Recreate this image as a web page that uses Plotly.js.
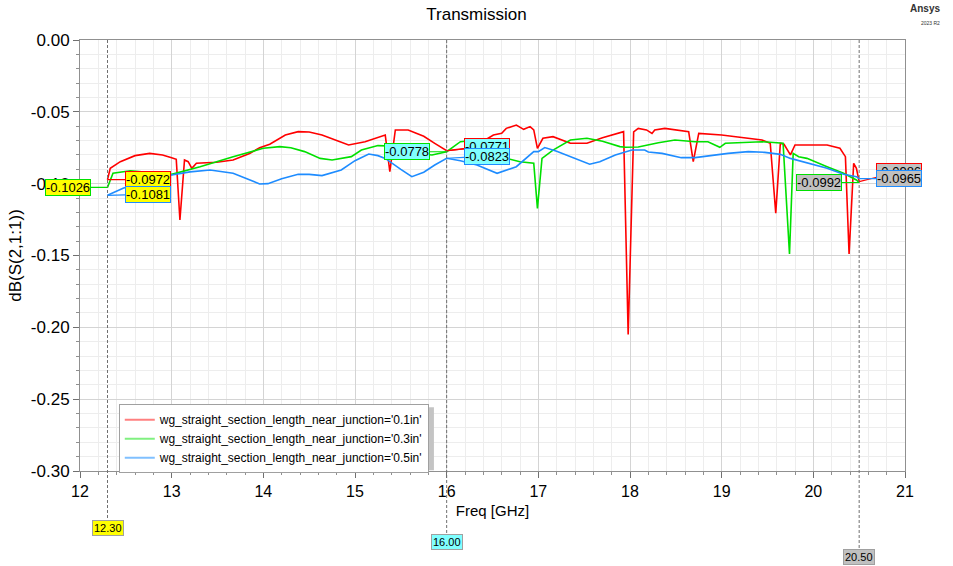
<!DOCTYPE html>
<html>
<head>
<meta charset="utf-8">
<script src="https://cdn.plot.ly/plotly-3.0.1.min.js"></script>
<style>html,body{margin:0;padding:0;background:#fff;}#chart{width:953px;height:566px;}</style>
</head>
<body>
<div id="chart"></div>
<script>
// ---- data ----
const seriesNames = [
  "wg_straight_section_length_near_junction='0.1in'",
  "wg_straight_section_length_near_junction='0.3in'",
  "wg_straight_section_length_near_junction='0.5in'"
];
const redFreq = [12.3,12.33,12.44,12.6,12.76,12.9,13.0,13.05,13.09,13.14,13.18,13.22,13.27,13.49,13.67,13.85,13.96,14.07,14.24,14.38,14.5,14.64,14.8,14.93,15.11,15.25,15.33,15.38,15.44,15.58,15.75,15.87,16.0,16.2,16.33,16.51,16.6,16.65,16.76,16.84,16.91,16.95,16.99,17.05,17.16,17.35,17.53,17.7,17.93,17.98,18.04,18.09,18.18,18.24,18.27,18.38,18.64,18.69,18.75,19.0,19.44,19.53,19.59,19.64,19.68,19.75,19.8,20.15,20.29,20.35,20.39,20.44,20.47,20.5];
const redDb = [-0.0972,-0.0893,-0.0847,-0.0805,-0.0789,-0.0800,-0.0819,-0.0830,-0.1253,-0.0835,-0.0847,-0.0893,-0.0858,-0.0851,-0.0835,-0.0790,-0.0750,-0.0726,-0.0661,-0.0638,-0.0640,-0.0661,-0.0700,-0.0731,-0.0708,-0.0675,-0.0661,-0.0917,-0.0626,-0.0626,-0.0670,-0.0719,-0.0771,-0.0755,-0.0731,-0.0661,-0.0650,-0.0615,-0.0592,-0.0622,-0.0603,-0.0626,-0.0754,-0.0684,-0.0673,-0.0719,-0.0719,-0.0680,-0.0638,-0.2050,-0.0640,-0.0615,-0.0626,-0.0650,-0.0626,-0.0615,-0.0638,-0.0847,-0.0650,-0.0661,-0.0696,-0.0719,-0.1206,-0.0719,-0.0726,-0.0800,-0.0731,-0.0731,-0.0754,-0.0812,-0.1490,-0.0858,-0.0893,-0.0986];
const greenFreq = [12.3,12.36,12.55,12.65,12.8,13.0,13.31,13.67,14.0,14.18,14.3,14.45,14.62,14.75,14.96,15.07,15.25,15.45,15.65,15.84,16.0,16.15,16.33,16.44,16.65,16.8,16.95,16.99,17.04,17.16,17.35,17.53,17.7,17.89,17.95,18.09,18.31,18.49,18.71,18.85,18.98,19.04,19.44,19.53,19.67,19.74,19.78,19.84,19.93,20.15,20.33,20.47,20.5];
const greenDb = [-0.1026,-0.0928,-0.0910,-0.0917,-0.0925,-0.0935,-0.0882,-0.0812,-0.0754,-0.0742,-0.0750,-0.0777,-0.0824,-0.0835,-0.0812,-0.0766,-0.0735,-0.0740,-0.0790,-0.0800,-0.0778,-0.0708,-0.0696,-0.0715,-0.0824,-0.0847,-0.0858,-0.1172,-0.0824,-0.0766,-0.0696,-0.0684,-0.0705,-0.0742,-0.0747,-0.0745,-0.0715,-0.0696,-0.0708,-0.0708,-0.0747,-0.0719,-0.0708,-0.0712,-0.0719,-0.1490,-0.0789,-0.0812,-0.0824,-0.0882,-0.0928,-0.0974,-0.0992];
const blueFreq = [12.3,12.47,12.65,13.0,13.2,13.42,13.67,13.85,13.96,14.05,14.2,14.38,14.5,14.64,14.85,15.0,15.15,15.25,15.33,15.5,15.62,15.75,15.87,16.0,16.15,16.33,16.55,16.76,16.95,17.0,17.07,17.2,17.35,17.56,17.67,17.84,18.02,18.16,18.2,18.35,18.56,18.71,19.07,19.29,19.47,19.64,19.75,19.96,20.15,20.33,20.47,20.5];
const blueDb = [-0.1081,-0.1032,-0.0993,-0.0940,-0.0918,-0.0905,-0.0928,-0.0975,-0.1002,-0.1000,-0.0965,-0.0935,-0.0935,-0.0944,-0.0905,-0.0840,-0.0794,-0.0805,-0.0824,-0.0900,-0.0951,-0.0920,-0.0870,-0.0823,-0.0840,-0.0870,-0.0928,-0.0882,-0.0777,-0.0777,-0.0749,-0.0775,-0.0812,-0.0865,-0.0847,-0.0800,-0.0766,-0.0766,-0.0780,-0.0789,-0.0819,-0.0819,-0.0789,-0.0777,-0.0782,-0.0796,-0.0824,-0.0858,-0.0893,-0.0935,-0.0951,-0.0965];

const markerFreqs = [12.3, 16.0, 20.5];
const markerLabels = ["12.30", "16.00", "20.50"];
const markerRed = [-0.0972, -0.0771, -0.0986];
const markerGreen = [-0.1026, -0.0778, -0.0992];
const markerBlue = [-0.1081, -0.0823, -0.0965];

const yTickVals = [0, -0.05, -0.10, -0.15, -0.20, -0.25, -0.30];
const yTickText = ["0.00", "-0.05", "-0.10", "-0.15", "-0.20", "-0.25", "-0.30"];
const xTickVals = [12, 13, 14, 15, 16, 17, 18, 19, 20, 21];
const xTickText = ["12", "13", "14", "15", "16", "17", "18", "19", "20", "21"];

// ---- styles ----
const lineColors = ["#ff0000", "#00e000", "#1e8cff"];
const legendColors = ["#ff8080", "#80f080", "#80c0ff"];
const markerBg = ["#ffff00", "#80ffff", "#c0c0c0"];
const FONT = "Liberation Sans, Arial, sans-serif";

const xs = [redFreq, greenFreq, blueFreq];
const ys = [redDb, greenDb, blueDb];
const traces = [];
for (let i = 0; i < 3; i++) {
  traces.push({x: xs[i], y: ys[i], type: "scatter", mode: "lines",
    line: {color: lineColors[i], width: 1.6}, showlegend: false, hoverinfo: "skip"});
}
for (let i = 0; i < 3; i++) {
  traces.push({x: [null], y: [null], type: "scatter", mode: "lines", name: seriesNames[i],
    line: {color: legendColors[i], width: 2}, showlegend: true});
}

const annotations = [];
const shapes = [];
// legend drop shadow
shapes.push({type: "rect", xref: "paper", yref: "paper", x0: 0.053, x1: 0.429, y0: 0.002, y1: 0.148,
  fillcolor: "#c4c4c4", line: {width: 0}, layer: "above"});
const labelY = [-0.1323, -0.1647, -0.1995];
const lineEnd = [-0.113, -0.146, -0.181];
const redAy = [0, -4, -10];
const blueAy = [-1, -2, 0];
for (let k = 0; k < markerFreqs.length; k++) {
  shapes.push({type: "line", xref: "x", yref: "paper", x0: markerFreqs[k], x1: markerFreqs[k],
    y0: 1, y1: lineEnd[k], line: {color: "#707070", width: 1, dash: "3px,2px"}, layer: "above"});
  annotations.push({xref: "x", yref: "paper", x: markerFreqs[k], y: labelY[k], text: markerLabels[k],
    showarrow: false, bgcolor: markerBg[k], bordercolor: "#a0a0a0", borderwidth: 1, borderpad: 1,
    font: {family: FONT, size: 11, color: "#000"}, yanchor: "middle"});
  const vals = [markerGreen[k], markerRed[k], markerBlue[k]];
  const cols = [lineColors[1], lineColors[0], lineColors[2]];
  const axs = [-40, 40, 40];
  const ays = [0, redAy[k], blueAy[k]];
  for (let j = 0; j < 3; j++) {
    annotations.push({xref: "x", yref: "y", x: markerFreqs[k], y: vals[j], text: vals[j].toFixed(4),
      showarrow: true, arrowhead: 0, arrowwidth: 1.2, arrowcolor: cols[j], ax: axs[j], ay: ays[j],
      bgcolor: markerBg[k], bordercolor: cols[j], borderwidth: 1, borderpad: 0,
      font: {family: FONT, size: 13, color: "#000"}});
  }
}
annotations.push({xref: "paper", yref: "paper", x: 1.045, y: 1.055, xanchor: "right", yanchor: "bottom",
  text: "<b>Ansys</b>", showarrow: false, font: {family: FONT, size: 10, color: "#333"}});
annotations.push({xref: "paper", yref: "paper", x: 1.045, y: 1.05, xanchor: "right", yanchor: "top",
  text: "2023 R2", showarrow: false, font: {family: FONT, size: 5, color: "#333"}});

const layout = {
  width: 953, height: 566,
  margin: {l: 80, r: 48, t: 40, b: 95},
  paper_bgcolor: "#ffffff", plot_bgcolor: "#ffffff",
  font: {family: FONT, color: "#000"},
  title: {text: "Transmission", x: 0.5, xref: "container", y: 0.975, yref: "container", yanchor: "middle",
    font: {family: FONT, size: 17, color: "#000"}},
  xaxis: {range: [12, 21], tickmode: "array", tickvals: xTickVals, ticktext: xTickText,
    showgrid: true, gridcolor: "#d4d4d4", gridwidth: 1,
    showline: true, linecolor: "#909090", mirror: true, zeroline: false,
    ticks: "outside", ticklen: 6, tickcolor: "#707070",
    tickfont: {family: FONT, size: 16, color: "#000"},
    minor: {dtick: 0.2, tick0: 12, showgrid: true, gridcolor: "#ededed", ticks: "outside", ticklen: 3, tickcolor: "#909090"},
    title: {text: "Freq [GHz]", font: {family: FONT, size: 15, color: "#000"}, standoff: 6}},
  yaxis: {range: [-0.3, 0], tickmode: "array", tickvals: yTickVals, ticktext: yTickText,
    showgrid: true, gridcolor: "#d4d4d4", gridwidth: 1,
    showline: true, linecolor: "#909090", mirror: true, zeroline: false,
    ticks: "outside", ticklen: 6, tickcolor: "#707070",
    tickfont: {family: FONT, size: 17, color: "#000"},
    minor: {dtick: 0.01, tick0: 0, showgrid: true, gridcolor: "#ededed", ticks: "outside", ticklen: 3, tickcolor: "#909090"},
    title: {text: "dB(S(2,1:1))", font: {family: FONT, size: 17, color: "#000"}, standoff: 4}},
  legend: {x: 0.047, y: 0.155, xanchor: "left", yanchor: "top", bgcolor: "#ffffff",
    bordercolor: "#a0a0a0", borderwidth: 1, font: {family: FONT, size: 12, color: "#000"},
    tracegroupgap: 0, itemwidth: 30},
  shapes: shapes,
  annotations: annotations
};

Plotly.newPlot("chart", traces, layout, {displayModeBar: false, staticPlot: true});
</script>
</body>
</html>
